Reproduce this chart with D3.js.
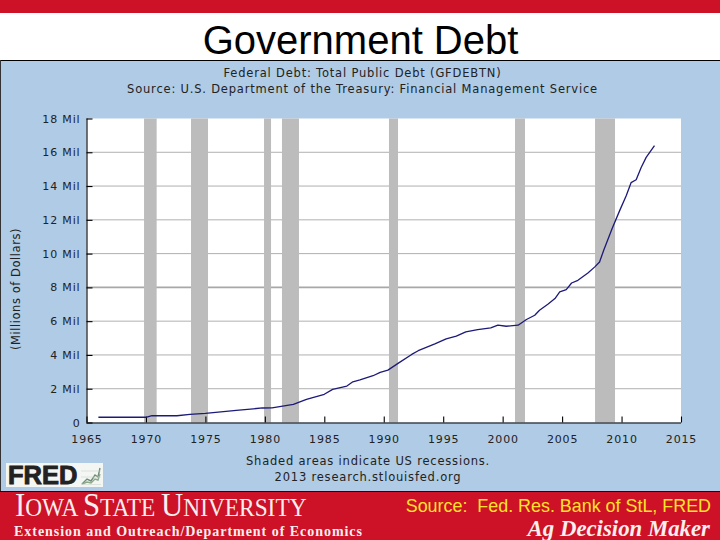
<!DOCTYPE html>
<html><head><meta charset="utf-8">
<script src="https://cdn.jsdelivr.net/npm/d3@7"></script>
<style>html,body{margin:0;padding:0;background:#fff}svg{display:block}</style></head>
<body><svg id="c" width="720" height="540"></svg>
<script>
const years=[1966,1970,1970.5,1972.6,1973.7,1975,1977.6,1979.8,1980.6,1982.4,1983.5,1985,1985.7,1986.9,1987.4,1988,1989.1,1989.7,1990.35,1991.2,1992.35,1992.9,1994.3,1995.25,1996.1,1996.9,1997.9,1999,1999.6,2000.3,2001.3,2002,2002.7,2003.1,2003.8,2004.4,2004.8,2005.35,2005.8,2006.33,2007.17,2007.73,2008.15,2008.5,2009.2,2009.85,2010.4,2010.8,2011.23,2011.65,2012.07,2012.77];
const debt=[0.31,0.31,0.4,0.4,0.48,0.54,0.72,0.86,0.87,1.07,1.37,1.67,1.96,2.16,2.41,2.52,2.77,2.97,3.1,3.5,4.03,4.25,4.65,4.95,5.11,5.37,5.5,5.6,5.76,5.7,5.76,6.1,6.35,6.65,7.0,7.34,7.73,7.87,8.26,8.42,8.85,9.2,9.5,10.2,11.47,12.56,13.44,14.2,14.37,15.1,15.7,16.4];
const recessionStart=[1969.84,1973.79,1979.93,1981.44,1990.44,2001.04,2007.77];
const recessionEnd=[1970.9,1975.22,1980.52,1982.87,1991.2,2001.88,2009.45];
const yTicks=[0,2,4,6,8,10,12,14,16,18];
const xTicks=[1965,1970,1975,1980,1985,1990,1995,2000,2005,2010,2015];
const titleLines=["Federal Debt: Total Public Debt (GFDEBTN)","Source: U.S. Department of the Treasury: Financial Management Service"];
const footLines=["Shaded areas indicate US recessions.","2013 research.stlouisfed.org"];

const svg=d3.select("#c");
const sans="'DejaVu Sans',Verdana,sans-serif", ar="'Liberation Sans',Arial,sans-serif", serif="'Liberation Serif','Times New Roman',serif";
const x=d3.scaleLinear().domain([1965,2015]).range([86.5,681]);
const y=d3.scaleLinear().domain([0,18]).range([422.5,118.5]);

svg.append("rect").attr("width",720).attr("height",13).attr("fill","#cd1127");
svg.append("text").attr("x",360.5).attr("y",54).attr("text-anchor","middle").attr("font-family",ar).attr("font-size",40).attr("fill","#000").text("Government Debt");

svg.append("rect").attr("x",0).attr("y",60.5).attr("width",720).attr("height",431).attr("fill","#b0cbe5");
svg.append("line").attr("x1",0).attr("x2",720).attr("y1",60.5).attr("y2",60.5).attr("stroke","#000");
svg.append("line").attr("x1",0.5).attr("x2",0.5).attr("y1",60).attr("y2",491).attr("stroke","#333");
svg.append("rect").attr("x",x(1965)).attr("y",y(18)).attr("width",x(2015)-x(1965)).attr("height",y(0)-y(18)).attr("fill","#fff");

// grid
svg.append("g").selectAll("line").data(yTicks.slice(1,-1)).join("line")
 .attr("x1",x(1965)).attr("x2",x(2015)).attr("y1",d=>y(d)).attr("y2",d=>y(d))
 .attr("stroke",d=>d===8?"#a8a8a8":"#b0b0b0").attr("stroke-width",d=>d===8?1.6:1);
// recessions
svg.append("g").selectAll("rect").data(recessionStart).join("rect")
 .attr("x",d=>x(d)).attr("width",(d,i)=>x(recessionEnd[i])-x(d)).attr("y",y(18)).attr("height",y(0)-y(18)).attr("fill","#bcbcbc");

// axes
const yAxis=d3.axisLeft(y).tickValues(yTicks).tickSize(-6).tickPadding(6).tickFormat(d=>d===0?"0":d+" Mil");
const gy=svg.append("g").attr("transform",`translate(${x(1965)},0)`).call(yAxis);
const xAxis=d3.axisBottom(x).tickValues(xTicks).tickSize(-6).tickPadding(13).tickFormat(d3.format("d"));
const gx=svg.append("g").attr("transform",`translate(0,${y(0)})`).call(xAxis);
[gy,gx].forEach(g=>{g.selectAll("path,line").attr("stroke","#000").attr("stroke-width",1.1);
 g.selectAll("text").attr("font-family",sans).attr("font-size",11).attr("letter-spacing",0.85).attr("fill","#222");});
gy.select(".domain").attr("d",`M0.5,${y(18)}V${y(0)}`);
gx.select(".domain").attr("d",`M${x(1965)},0.5H${x(2015)}`);

// line
svg.append("path").datum(years).attr("fill","none").attr("stroke","#1c1a78").attr("stroke-width",1.3).attr("stroke-linejoin","round")
 .attr("d",d3.line().x(d=>x(d)).y((d,i)=>y(debt[i])));

// labels
svg.append("g").selectAll("text").data(titleLines).join("text").attr("x",362.5).attr("y",(d,i)=>77+i*16).attr("text-anchor","middle")
 .attr("font-family",sans).attr("font-size",11.5).attr("letter-spacing",0.8).attr("fill","#222").text(d=>d);
svg.append("text").attr("transform","translate(20,289) rotate(-90)").attr("text-anchor","middle").attr("font-family",sans).attr("font-size",11.5).attr("letter-spacing",0.55).attr("fill","#222").text("(Millions of Dollars)");
svg.append("g").selectAll("text").data(footLines).join("text").attr("x",368).attr("y",(d,i)=>465+i*16).attr("text-anchor","middle")
 .attr("font-family",sans).attr("font-size",11.5).attr("letter-spacing",0.8).attr("fill","#222").text(d=>d);

// FRED logo
svg.append("rect").attr("x",6).attr("y",463).attr("width",97).attr("height",24).attr("fill","#f4f6f4");
svg.append("text").attr("x",8).attr("y",484).attr("font-family",ar).attr("font-weight",700).attr("font-size",25.5).attr("stroke","#222").attr("stroke-width",0.9).attr("fill","#222").text("FRED");
const logoA=[[82,484],[87,479],[91,481],[95,475],[98,477],[100,468]];
const logoB=[[82,484],[87,482],[91,483],[95,479],[98,480],[100,474]];
[logoA,logoB].forEach((p,i)=>svg.append("path").attr("d",d3.line()(p)).attr("fill","none").attr("stroke",i?"#8fa88a":"#6f8f78").attr("stroke-width",1.4));
svg.append("path").attr("d","M81,477H101M81,471H101M81,484.5H101").attr("stroke","#ccd6cc").attr("stroke-width",0.6);

// bottom band
svg.append("rect").attr("x",0).attr("y",491.5).attr("width",720).attr("height",48.5).attr("fill","#cd1127");
svg.append("line").attr("x1",0).attr("x2",720).attr("y1",491.5).attr("y2",491.5).attr("stroke","#111");
const isu=svg.append("text").attr("transform","translate(15,516) scale(0.934,1)").attr("font-family",serif).attr("font-size",33).attr("fill","#fbeeee");
isu.append("tspan").text("I");isu.append("tspan").attr("font-size",25).text("OWA ");isu.append("tspan").text("S");isu.append("tspan").attr("font-size",25).text("TATE ");isu.append("tspan").text("U");isu.append("tspan").attr("font-size",25).text("NIVERSITY");
svg.append("text").attr("x",14).attr("y",536).attr("font-family",serif).attr("font-weight",700).attr("font-size",14).attr("fill","#fbeeee").attr("textLength",348).attr("lengthAdjust","spacing").text("Extension and Outreach/Department of Economics");
svg.append("text").attr("x",711).attr("y",511.5).attr("text-anchor","end").attr("font-family",ar).attr("font-size",17.9).attr("fill","#fde428").attr("xml:space","preserve").text("Source:  Fed. Res. Bank of StL, FRED");
svg.append("text").attr("x",710).attr("y",535.5).attr("text-anchor","end").attr("font-family",serif).attr("font-weight",700).attr("font-style","italic").attr("font-size",22.8).attr("fill","#fbeeee").text("Ag Decision Maker");
</script></body></html>
